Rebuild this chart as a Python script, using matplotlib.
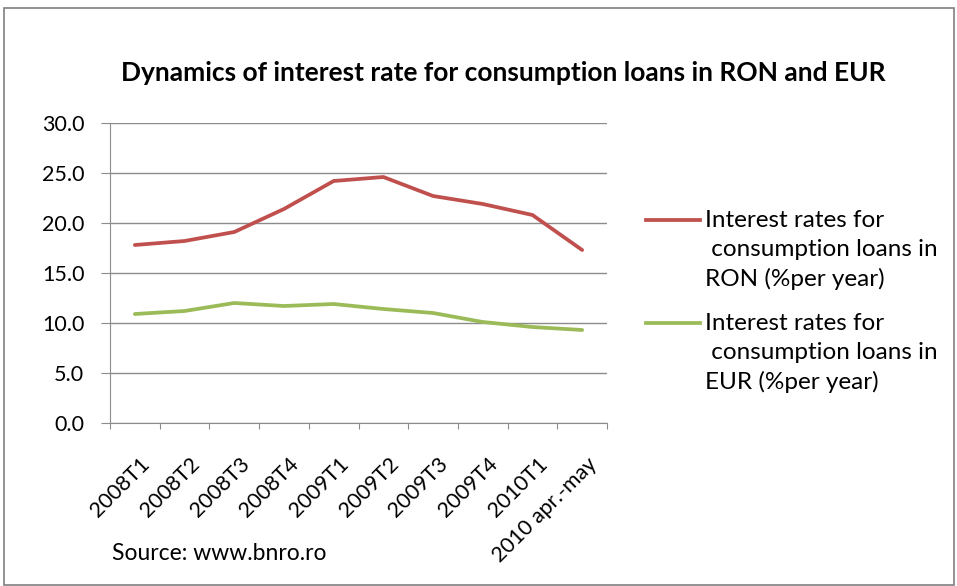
import matplotlib.pyplot as plt
import matplotlib.transforms as mtransforms
from matplotlib.patches import Rectangle

# ==========================================================
# DATA
# ==========================================================
periods = ["2008T1", "2008T2", "2008T3", "2008T4", "2009T1",
           "2009T2", "2009T3", "2009T4", "2010T1", "2010 apr.-may"]
ron_rates = [17.8, 18.2, 19.1, 21.4, 24.2, 24.6, 22.7, 21.9, 20.8, 17.3]
eur_rates = [10.9, 11.2, 12.0, 11.7, 11.9, 11.4, 11.0, 10.1, 9.6, 9.3]
y_ticks = [0, 5, 10, 15, 20, 25, 30]

ron_label = "Interest rates for\n consumption loans in\nRON (%per year)"
eur_label = "Interest rates for\n consumption loans in\nEUR (%per year)"

RED = "#C0504D"
GREEN = "#9BBB59"
GRID = "#8C8C8C"

plt.rcParams["font.family"] = ["Lato", "DejaVu Sans"]

W, H = 957, 586
fig = plt.figure(figsize=(W / 100, H / 100), dpi=100)

# outer chart frame
fig.patches.append(Rectangle((4 / W, 1 / H), 950 / W, (H - 9) / H,
                             transform=fig.transFigure, fill=False,
                             edgecolor="#7F7F7F", linewidth=1.2))

# plot area: x 110..607, y 123..423 (pixels)
ax = fig.add_axes([110 / W, 1 - 423 / H, 497 / W, 300 / H])

x = list(range(len(periods)))
ax.plot(x, ron_rates, color=RED, linewidth=2.7, solid_capstyle="round")
ax.plot(x, eur_rates, color=GREEN, linewidth=2.7, solid_capstyle="round")

ax.set_xlim(-0.5, len(periods) - 0.5)
ax.set_ylim(0, 30)

ax.set_yticks(y_ticks)
ax.set_yticklabels([f"{v:.1f}" for v in y_ticks], fontsize=15.5)
ax.grid(axis="y", color=GRID, linewidth=1)
ax.set_axisbelow(True)

# category ticks sit on the boundaries, labels at centers
ax.set_xticks([i - 0.5 for i in range(len(periods) + 1)])
ax.set_xticklabels([])
ax.set_xticks(x, minor=True)
ax.set_xticklabels(periods, minor=True, rotation=45, ha="right",
                   rotation_mode="anchor", fontsize=15.5)
ax.tick_params(axis="x", which="major", length=4.3, color=GRID)
ax.tick_params(axis="x", which="minor", length=0, pad=22)
ax.tick_params(axis="y", length=6.5, color=GRID, pad=12)

shift = mtransforms.ScaledTranslation(5 / 100, 0, fig.dpi_scale_trans)
for lbl in ax.get_xticklabels(minor=True):
    lbl.set_transform(lbl.get_transform() + shift)

for side in ["top", "right"]:
    ax.spines[side].set_visible(False)
ax.spines["left"].set_color(GRID)
ax.spines["bottom"].set_color(GRID)

# legend drawn by hand to get the wrapped layout
for y_px, col, txt in [(220, RED, ron_label), (323, GREEN, eur_label)]:
    yf = 1 - y_px / H
    fig.add_artist(plt.Line2D([646 / W, 700 / W], [yf, yf], color=col,
                              linewidth=2.7, transform=fig.transFigure))
    fig.text(705 / W, 1 - (y_px + 30) / H, txt, fontsize=17.5,
             va="center", ha="left", linespacing=1.45)

fig.text(503 / W, 1 - 73 / H,
         "Dynamics of interest rate for consumption loans in RON and EUR",
         fontsize=19, fontweight="bold", ha="center", va="center")
fig.text(112 / W, 1 - 553 / H, "Source: www.bnro.ro", fontsize=16.5,
         ha="left", va="center")

fig.savefig("out.png", dpi=100)
